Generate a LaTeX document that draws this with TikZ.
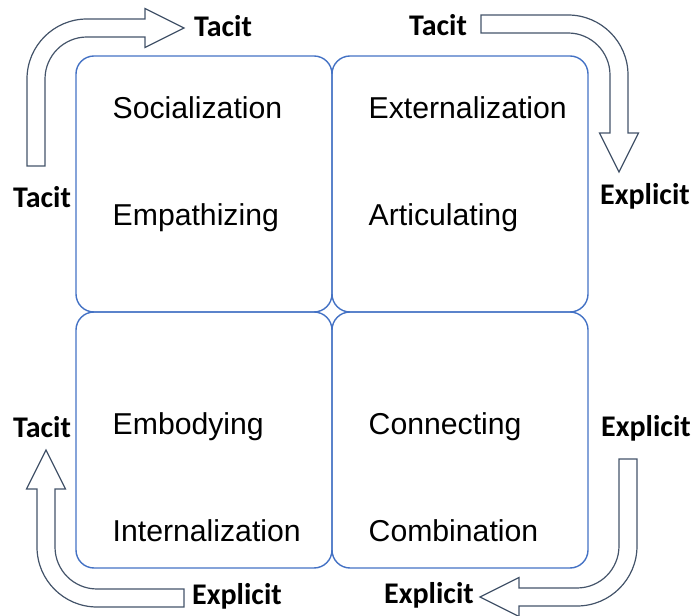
\documentclass[tikz,border=0pt]{standalone}
\usepackage{fontspec}
\setmainfont{Liberation Sans}
\newfontfamily\lblfont{Carlito}
\usetikzlibrary{calc,positioning}

\definecolor{quadblue}{HTML}{4472C4}
\definecolor{arrowgray}{HTML}{44546A}

% bent block arrow, corner at (#1,#2), turned by #3
\newcommand{\bentarrow}[3]
	{
	\begin{scope}[shift={(#1,#2)},rotate=#3]
	\draw[arrowgray,fill=white,line width=1.2pt,line join=miter]
		(-9,-138) -- (-9,-51) arc[start angle=180,end angle=90,radius=60pt]
		-- (109,9) -- (109,19.5) -- (148,0) -- (109,-19.5) -- (109,-9)
		-- (51,-9) arc[start angle=90,end angle=180,radius=42pt]
		-- (9,-138) -- cycle;
	\end{scope}
	}

\begin{document}
\begin{tikzpicture}[x=1pt,y=1pt,
	quad/.style={draw=quadblue,line width=1.4pt,rounded corners=18pt,
		minimum width=256pt,minimum height=256pt,inner sep=0pt},
	term/.style={font=\fontsize{30.2}{36}\selectfont,anchor=base west,inner sep=0pt},
	flow/.style={font=\lblfont\bfseries\fontsize{30}{34}\selectfont,anchor=base west,inner sep=0pt}]

\useasboundingbox (0,0) rectangle (694,616);

% the four quadrants
\node[quad] (soc) at (204,432) {};
\node[quad] (ext) at (460,432) {};
\node[quad] (int) at (204,176) {};
\node[quad] (com) at (460,176) {};

% texts inside the quadrants
\node[term] (socname) at (112.5,497) {Socialization};
\node[term] (socverb) at (112.5,390) {Empathizing};
\node[term] (extname) at (368.5,497) {Externalization};
\node[term] (extverb) at (368.5,390) {Articulating};
\node[term] (intverb) at (112.5,181) {Embodying};
\node[term] (intname) at (112.5,74) {Internalization};
\node[term] (comverb) at (368.5,181) {Connecting};
\node[term] (comname) at (368.5,74) {Combination};

% bent arrows round the corners
\bentarrow{36}{588}{0}
\bentarrow{619}{592}{-90}
\bentarrow{628}{19}{180}
\bentarrow{46}{18}{90}

% tacit / explicit labels
\node[flow] (soctop) at (194,579) {Tacit};
\node[flow] (soclft) at (13,408) {Tacit};
\node[flow] (exttop) at (409,580) {Tacit};
\node[flow] (extrgt) at (600,411) {Explicit};
\node[flow] (comrgt) at (601,179) {Explicit};
\node[flow] (combot) at (384,12) {Explicit};
\node[flow] (intbot) at (192,11) {Explicit};
\node[flow] (intlft) at (13,178) {Tacit};

\end{tikzpicture}
\end{document}
